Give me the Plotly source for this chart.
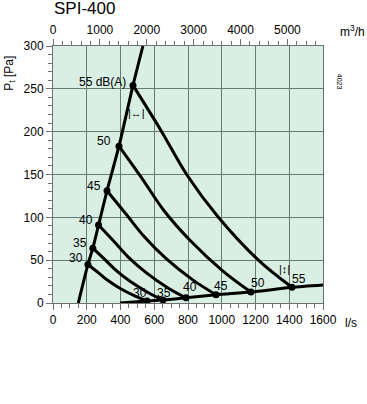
import plotly.graph_objects as go

# ---- data ----
levels = [30, 35, 40, 45, 50, 55]

# steep system line (l/s, Pa)
sys_q = [150, 207, 236, 270, 320, 391, 474, 533]
sys_p = [0, 45, 64, 91, 131, 183, 254, 300]

# flat system line
low_q = [397, 557, 652, 788, 966, 1173, 1416, 1600]
low_p = [0, 2.3, 3.5, 6, 9.7, 12.8, 18.3, 21]

# dB(A) points on both lines
upper_q = [207, 236, 270, 320, 391, 474]
upper_p = [45, 64, 91, 131, 183, 254]
lower_q = [557, 652, 788, 966, 1173, 1416]
lower_p = [2.3, 3.5, 6, 9.7, 12.8, 18.3]

# iso-sound curves
c30_q = [207, 270, 326, 396, 484, 557]
c30_p = [45, 35.2, 26.2, 17.2, 8.3, 2.3]
c35_q = [236, 311, 377, 461, 565, 652]
c35_p = [64, 50, 37.4, 24.7, 12, 3.5]
c40_q = [270, 363, 446, 550, 679, 788]
c40_p = [91, 71.5, 53.6, 35.8, 17.9, 6]
c45_q = [320, 436, 540, 669, 830, 966]
c45_p = [131, 103, 77.6, 52, 26.7, 9.7]
c50_q = [391, 532, 657, 813, 1009, 1173]
c50_p = [183, 144, 108, 73, 37, 12.8]
c55_q = [474, 644, 792, 980, 1217, 1416]
c55_p = [254, 200, 150, 100, 50, 18.3]

x_ticks = [0, 200, 400, 600, 800, 1000, 1200, 1400, 1600]
y_ticks = [0, 50, 100, 150, 200, 250, 300]
top_ticks = [0, 1000, 2000, 3000, 4000, 5000]

LINE = dict(color="black", width=3)
GRID = "#647c72"
AX = "#707070"
FONT = "Liberation Sans, Arial, sans-serif"

fig = go.Figure()

for q, p in [(c30_q, c30_p), (c35_q, c35_p), (c40_q, c40_p),
             (c45_q, c45_p), (c50_q, c50_p), (c55_q, c55_p)]:
    fig.add_trace(go.Scatter(x=q, y=p, mode="lines", line=dict(shape="spline", smoothing=1.0, **LINE),
                             hoverinfo="skip", showlegend=False))

fig.add_trace(go.Scatter(x=sys_q, y=sys_p, mode="lines", line=dict(shape="spline", smoothing=0.6, **LINE),
                         showlegend=False))
fig.add_trace(go.Scatter(x=low_q, y=low_p, mode="lines", line=dict(shape="spline", smoothing=0.6, **LINE),
                         showlegend=False))

fig.add_trace(go.Scatter(x=upper_q + lower_q, y=upper_p + lower_p, mode="markers",
                         marker=dict(color="black", size=7), showlegend=False))

# dummy trace for the top axis (m3/h)
fig.add_trace(go.Scatter(x=[0, 5760], y=[None, None], xaxis="x2", mode="lines", showlegend=False))

fig.update_layout(
    width=367, height=404,
    margin=dict(l=53, r=44, t=46, b=101, autoexpand=False),
    paper_bgcolor="white", plot_bgcolor="#d9efe4",
    font=dict(family=FONT, size=12, color="black"),
    xaxis=dict(range=[0, 1600], tickvals=x_ticks, showgrid=True, gridcolor=GRID, gridwidth=1,
               showline=True, linecolor=AX, linewidth=1, mirror=False, automargin=False,
               ticks="outside", ticklen=6, tickcolor=AX,
               minor=dict(dtick=50, ticks="outside", ticklen=4, tickcolor=AX, showgrid=False),
               zeroline=False, tickfont=dict(size=12)),
    xaxis2=dict(range=[0, 5760], overlaying="x", side="top", tickvals=top_ticks, showgrid=False,
                showline=True, linecolor=AX, linewidth=1, automargin=False,
                ticks="outside", ticklen=6, tickcolor=AX,
                minor=dict(dtick=200, ticks="outside", ticklen=4, tickcolor=AX, showgrid=False),
                zeroline=False, tickfont=dict(size=12)),
    yaxis=dict(range=[0, 300], tickvals=y_ticks, showgrid=True, gridcolor=GRID, gridwidth=1,
               showline=True, linecolor=AX, linewidth=1, mirror=True, automargin=False,
               ticks="outside", ticklen=6, tickcolor=AX,
               minor=dict(dtick=10, ticks="outside", ticklen=4, tickcolor=AX, showgrid=False),
               zeroline=False, tickfont=dict(size=12)),
)

ann = []
# upper labels
up_shift = [(-3, 6), (-4, 5), (-4, 5), (-4, 5), (-6, 5)]
for i, lv in enumerate(levels[:-1]):
    ann.append(dict(x=upper_q[i], y=upper_p[i], text=str(lv), showarrow=False,
                    xanchor="right", yanchor="middle", xshift=up_shift[i][0], yshift=up_shift[i][1],
                    font=dict(size=12)))
ann.append(dict(x=upper_q[-1], y=upper_p[-1], text="55 dB(A)", showarrow=False,
                xanchor="right", yanchor="middle", xshift=-5, yshift=3, font=dict(size=12)))
# lower labels
low_shift = [(-7, 8), (1, 7), (4, 11), (5, 9), (7, 9), (7, 8)]
for i, lv in enumerate(levels):
    ann.append(dict(x=lower_q[i], y=lower_p[i], text=str(lv), showarrow=False,
                    xanchor="center", yanchor="middle", xshift=low_shift[i][0], yshift=low_shift[i][1],
                    font=dict(size=12)))
# damper symbols
ann.append(dict(x=492, y=222, text="|↔|", showarrow=False, font=dict(size=11)))
ann.append(dict(x=1369, y=40, text="|↕|", showarrow=False, font=dict(size=11)))
# title and units
ann.append(dict(xref="paper", yref="paper", x=-0.005, y=1.145, text="SPI-400", showarrow=False,
                xanchor="left", yanchor="middle", font=dict(size=17)))
ann.append(dict(xref="paper", yref="paper", x=1.055, y=1.06, text="m<sup>3</sup>/h", showarrow=False,
                xanchor="left", yanchor="middle", font=dict(size=12)))
ann.append(dict(xref="paper", yref="paper", x=1.075, y=-0.078, text="l/s", showarrow=False,
                xanchor="left", yanchor="middle", font=dict(size=12)))
ann.append(dict(xref="paper", yref="paper", x=-0.16, y=0.895, text="P<sub>t</sub> [Pa]", showarrow=False,
                xanchor="center", yanchor="middle", textangle=-90, font=dict(size=12)))
ann.append(dict(xref="paper", yref="paper", x=1.06, y=0.86, text="4023", showarrow=False,
                xanchor="center", yanchor="middle", textangle=90, font=dict(size=7)))
fig.update_layout(annotations=ann)

fig.write_html("out.html", config={"displayModeBar": False},
               post_script="document.body.style.margin='0';document.body.style.padding='0';")
